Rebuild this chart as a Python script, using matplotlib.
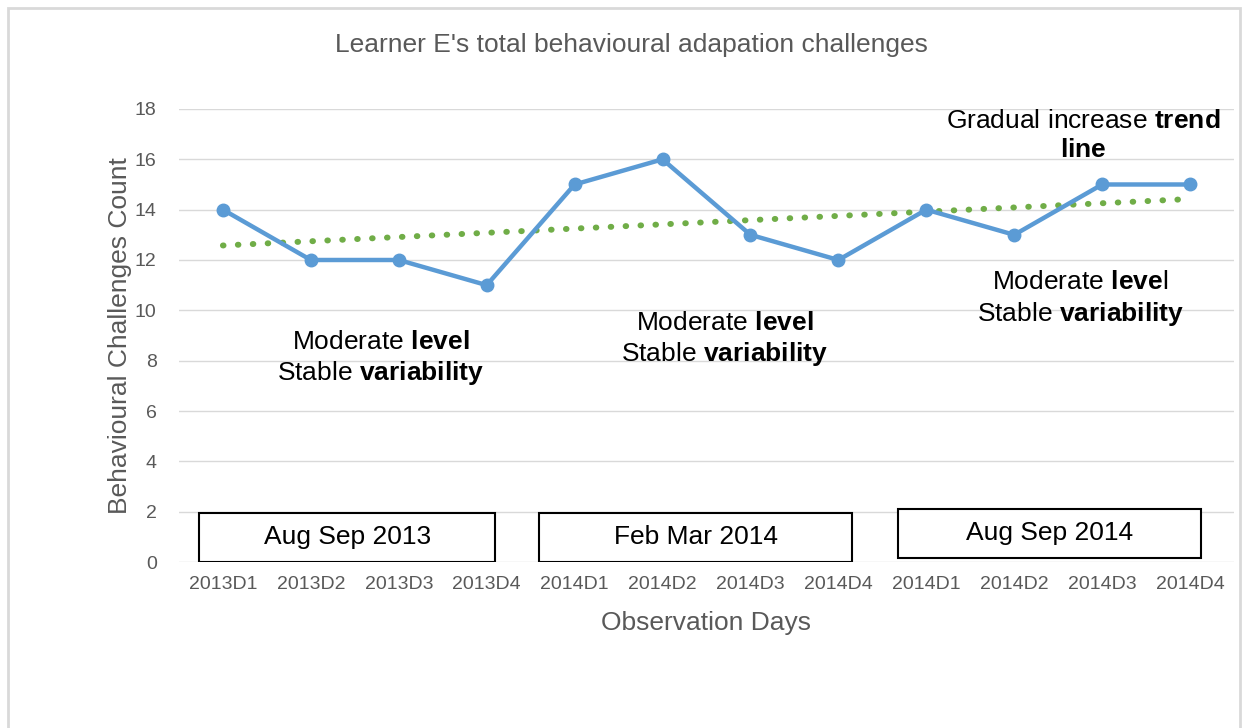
import numpy as np
import matplotlib
matplotlib.use('Agg')
import matplotlib.pyplot as plt
from matplotlib.patches import Rectangle

plt.rcParams['font.family'] = ['Liberation Sans', 'DejaVu Sans']
plt.rcParams['mathtext.fontset'] = 'custom'
plt.rcParams['mathtext.rm'] = 'Liberation Sans'
plt.rcParams['mathtext.bf'] = 'Liberation Sans:bold'

# data
days = ['2013D1', '2013D2', '2013D3', '2013D4', '2014D1', '2014D2',
        '2014D3', '2014D4', '2014D1', '2014D2', '2014D3', '2014D4']
counts = [14, 12, 12, 11, 15, 16, 13, 12, 14, 13, 15, 15]
periods = ['Aug Sep 2013', 'Feb Mar 2014', 'Aug Sep 2014']

x = np.arange(len(days))
slope, icpt = np.polyfit(x, counts, 1)
trend = slope * x + icpt

fig = plt.figure(figsize=(12.48, 7.28), dpi=100)
ax = fig.add_axes([0.1434, 0.228, 0.8454, 0.6223])

# outer chart border
fig.patches.append(Rectangle((8 / 1248, -0.05), 1232 / 1248, 1 - 8 / 728 + 0.05,
                             transform=fig.transFigure, fill=False,
                             edgecolor='#d9d9d9', lw=2))

ax.plot(x, counts, color='#5b9bd5', lw=3.2, marker='o', ms=9, zorder=3)
ax.plot(x, trend, color='#70ad47', lw=4.3, dash_capstyle='round',
        linestyle=(0, (0.1, 2.4)), zorder=2)

ax.set_xlim(-0.5, len(days) - 0.5)
ax.set_ylim(0, 18)
ax.set_yticks(range(0, 19, 2))
ax.set_xticks(x)
ax.set_xticklabels(days)
ax.grid(axis='y', color='#d9d9d9', lw=1)
ax.set_axisbelow(True)
for s in ax.spines.values():
    s.set_visible(False)
ax.tick_params(length=0, colors='#595959', labelsize=14, pad=10)
ax.tick_params(axis='y', pad=16)

ax.set_xlabel('Observation Days', fontsize=19, color='#595959', labelpad=13)
ax.set_ylabel('Behavioural Challenges Count', fontsize=19, color='#595959', labelpad=2)
fig.text(0.506, 0.938, "Learner E's total behavioural adapation challenges",
         fontsize=19, color='#595959', ha='center', va='center')

# period boxes
boxes = [(-0.27, 0.0, 3.37, 1.95), (3.6, 0.0, 3.56, 1.95), (7.68, 0.16, 3.44, 1.95)]
for (bx, by, bw, bh), lab in zip(boxes, periods):
    ax.add_patch(Rectangle((bx, by), bw, bh, facecolor='white', edgecolor='black',
                           lw=1.5, zorder=4))
    ax.text(bx + bw / 2, by + bh / 2, lab, fontsize=19, ha='center', va='center', zorder=5)

note = 'Moderate $\\mathbf{level}$\nStable $\\mathbf{variability}$'
ax.text(1.79, 8.1, note, fontsize=19, ha='center', va='center', linespacing=1.25)
ax.text(5.71, 8.85, note, fontsize=19, ha='center', va='center', linespacing=1.25)
ax.text(9.75, 10.45, 'Moderate $\\mathbf{leve}$l\nStable $\\mathbf{variability}$',
        fontsize=19, ha='center', va='center', linespacing=1.25)
ax.text(9.78, 16.95, 'Gradual increase $\\mathbf{trend}$\n$\\mathbf{line}$',
        fontsize=19, ha='center', va='center', linespacing=1.25)

fig.savefig('out.png', dpi=100)
